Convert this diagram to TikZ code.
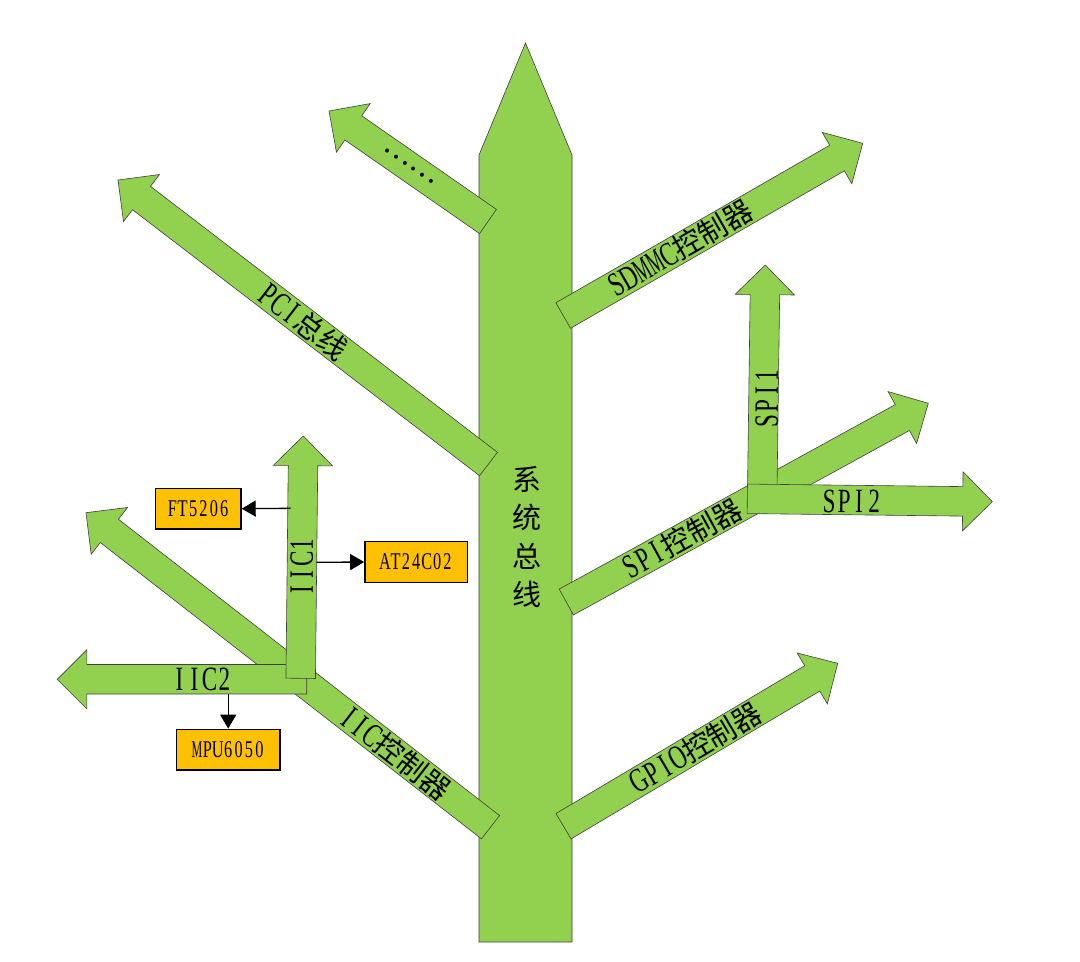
\documentclass[tikz,border=0pt]{standalone}
\usepackage{fontspec}
\usepackage{graphicx}
\setmainfont{Liberation Serif}[FakeStretch=0.68]
\newfontfamily\cjk{Noto Sans CJK SC}
\usetikzlibrary{calc,arrows.meta}
\definecolor{leaf}{HTML}{92D050}
\definecolor{chip}{HTML}{FFC000}
\newlength\mcw
\newcommand\mc[1]{\makebox[\mcw][c]{\ifx#1M\scalebox{0.74}[1]{M}\else#1\fi}}
\def\monoiter#1{\ifx#1\relax\else\mc{#1}\expandafter\monoiter\fi}
\newcommand\mono[2][15pt]{\setlength\mcw{#1}\monoiter#2\relax}
\newcommand\zh[1]{{\cjk\fontsize{29}{35}\selectfont #1}}
\tikzset{
  branch/.style={fill=leaf, draw=black!75, line width=0.6pt, line join=miter},
  lbl/.style={inner sep=0pt, font=\fontsize{34}{40}\selectfont},
  chipbox/.style={draw=black, fill=chip, line width=1.5pt, inner sep=0pt,
    minimum height=40.7pt, font=\fontsize{24}{28}\selectfont},
  conn/.style={draw=black, line width=1.3pt, -{Triangle[length=14pt,width=16pt]}}
}
\newcommand\fatarrow[2]{%
  \coordinate (ft) at #1; \coordinate (fh) at #2;
  \coordinate (fb) at ($(fh)!29.6pt!(ft)$);
  \draw[branch] ($(ft)!14.75pt!90:(fh)$) -- ($(fb)!14.75pt!-90:(ft)$) -- ($(fb)!29.6pt!-90:(ft)$) -- (fh) -- ($(fb)!29.6pt!90:(ft)$) -- ($(fb)!14.75pt!90:(ft)$) -- ($(ft)!14.75pt!-90:(fh)$) -- cycle;}
\begin{document}
\begin{tikzpicture}[x=1pt,y=-1pt]
\fill[white] (0,0) rectangle (1080,962);
\useasboundingbox (0,0) rectangle (1080,962);
% trunk
\draw[branch] (479,942) -- (479,155) -- (525.5,43) -- (572,155) -- (572,942) -- cycle;
\node[inner sep=0pt, align=center, font=\cjk\fontsize{29}{38.3}\selectfont] (bus) at (526.7,537) {系\\统\\总\\线};
% branches
\fatarrow{(488,221.5)}{(329,111)}
\fatarrow{(488.5,464)}{(118,180)}
\fatarrow{(563.2,315.5)}{(862.7,143.3)}
\fatarrow{(563.5,826.2)}{(837.7,663.3)}
\fatarrow{(566.3,602)}{(928.3,403.3)}
\fatarrow{(762.3,488)}{(765.3,265)}
\fatarrow{(747.3,498.8)}{(992.3,501.7)}
\fatarrow{(490.5,827.2)}{(86,512.7)}
\fatarrow{(306.7,679.2)}{(57.3,679.3)}
\fatarrow{(300.7,678.3)}{(303.3,436)}
% labels
\node[inner sep=0pt, rotate=-34.8] (dots) at (409,166) {\zh{……}};
\node[lbl, rotate=-37.5] (pci) at (303,321.8) {\mono{PCI}\zh{总线}};
\node[lbl, rotate=29.9] (sdmmc) at (680.2,248.2) {\mono{SDMMC}\zh{控制器}};
\node[lbl, rotate=30.7] (gpio) at (696,747.5) {\mono{GPIO}\zh{控制器}};
\node[lbl, rotate=28.8] (spictl) at (682,538.5) {\mono{SPI}\zh{控制器}};
\node[lbl, rotate=-37.9] (iicctl) at (395,752.9) {\mono{IIC}\zh{控制器}};
\node[lbl] (iic2) at (202,679) {\mono{IIC2}};
\node[lbl, rotate=90] (iic1) at (301.7,566.7) {\mono{IIC1}};
\node[lbl, rotate=90] (spi1) at (766.7,398.3) {\mono{SPI1}};
\node[lbl, rotate=-0.7] (spi2) at (851.7,501.5) {\mono{SPI2}};
% chips
\node[chipbox, minimum width=85.3pt] (ft) at (198.3,508.7) {\mono[10.4pt]{FT5206}};
\node[chipbox, minimum width=102.7pt] (at) at (416.3,562) {\mono[10.4pt]{AT24C02}};
\node[chipbox, minimum width=103.7pt] (mpu) at (228.2,749.7) {\mono[10.4pt]{MPU6050}};
\coordinate (ftsrc) at (290.7,508.3);
\coordinate (atsrc) at (316.7,562.3);
\coordinate (mpusrc) at (228.2,694);
\draw[conn] (ftsrc) -- (ft.east);
\draw[conn] (atsrc) -- (at.west);
\draw[conn] (mpusrc) -- (mpu.north);
\end{tikzpicture}
\end{document}
